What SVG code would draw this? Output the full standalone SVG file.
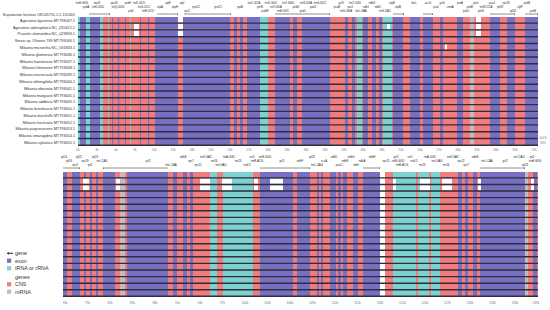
<svg xmlns="http://www.w3.org/2000/svg" width="550" height="310" viewBox="0 0 550 310">
<defs>
<style>
.ex{fill:#7770c2}
.cn{fill:#f27b7b}
.tr{fill:#7cd2cf}
.mr{fill:#c4bcbc}
.wh{fill:#ffffff}
.sep{stroke:#2e2e3c;stroke-width:1.4;fill:none}
.lab{font-family:"Liberation Sans",Arial,sans-serif;font-size:3.8px;fill:#333;text-anchor:end}
.a{font-family:"Liberation Sans",Arial,sans-serif;font-size:2.8px;fill:#222;text-anchor:middle}
.tk{font-family:"Liberation Sans",Arial,sans-serif;font-size:3.2px;fill:#777;text-anchor:middle}
.lg{font-family:"Liberation Sans",Arial,sans-serif;font-size:5.4px;fill:#333}
.gl{stroke:#222;stroke-width:0.5;fill:none}
</style>
<marker id="ar" viewBox="0 0 6 6" refX="5" refY="3" markerWidth="3" markerHeight="3" orient="auto"><path d="M0,0L6,3L0,6z" fill="#222"/></marker>
</defs>
<rect width="550" height="310" fill="#fff"/>

<g id="labels">
<text class="lab" x="75" y="16" textLength="72" lengthAdjust="spacingAndGlyphs">Eupatorium fortunei OK545755.1:1-152401</text>
<text class="lab" x="75" y="21.8">Ageratina ligustrina MT793047.1</text>
<text class="lab" x="75" y="28.6">Ageratina adenophora NC_015621.1</text>
<text class="lab" x="75" y="35.4">Praxelis clematidea NC_023833.1</text>
<text class="lab" x="75" y="42.2">Stevia sp. Oliveira 769 MT793046.1</text>
<text class="lab" x="75" y="49">Mikania micrantha NC_031833.1</text>
<text class="lab" x="75" y="55.8">Mikania glomerata MT793036.1</text>
<text class="lab" x="75" y="62.5">Mikania haenkeana MT793037.1</text>
<text class="lab" x="75" y="69.3">Mikania lehmannii MT793038.1</text>
<text class="lab" x="75" y="76.1">Mikania neurocaula MT793039.1</text>
<text class="lab" x="75" y="82.9">Mikania oblongifolia MT793040.1</text>
<text class="lab" x="75" y="89.7">Mikania obtusata MT793041.1</text>
<text class="lab" x="75" y="96.5">Mikania marguarii MT793045.1</text>
<text class="lab" x="75" y="103.3">Mikania additicia MT793049.1</text>
<text class="lab" x="75" y="110.1">Mikania brevifaucia MT793050.1</text>
<text class="lab" x="75" y="116.9">Mikania burchellii MT793051.1</text>
<text class="lab" x="75" y="123.7">Mikania hectruata MT793052.1</text>
<text class="lab" x="75" y="130.4">Mikania purpurascens MT793053.1</text>
<text class="lab" x="75" y="137.2">Mikania smaragdina MT793054.1</text>
<text class="lab" x="75" y="144">Mikania sylvatica MT793055.1</text>
</g>

<g id="top-panel">
<rect class="cn" x="78" y="17" width="460" height="129"/>
<g class="ex">
<rect x="80" y="17" width="6" height="129"/><rect x="90" y="17" width="10" height="129"/>
<rect x="112" y="17" width="1" height="129"/><rect x="118" y="17" width="1.2" height="129"/>
<rect x="125" y="17" width="1" height="129"/><rect x="140" y="17" width="1" height="129"/>
<rect x="148" y="17" width="1.2" height="129"/><rect x="155" y="17" width="23" height="129"/>
<rect x="183" y="17" width="47" height="129"/><rect x="234" y="17" width="3" height="129"/>
<rect x="240" y="17" width="3" height="129"/><rect x="247" y="17" width="13" height="129"/>
<rect x="275" y="17" width="15" height="129"/><rect x="293" y="17" width="4" height="129"/>
<rect x="302" y="17" width="28" height="129"/><rect x="345" y="17" width="3" height="129"/>
<rect x="352" y="17" width="3" height="129"/><rect x="363" y="17" width="5" height="129"/>
<rect x="372" y="17" width="4" height="129"/><rect x="379" y="17" width="3" height="129"/>
<rect x="393" y="17" width="10" height="129"/><rect x="410" y="17" width="10" height="129"/>
<rect x="423" y="17" width="10" height="129"/><rect x="440" y="17" width="3" height="129"/>
<rect x="457" y="17" width="6" height="129"/><rect x="490" y="17" width="10" height="129"/>
<rect x="507" y="17" width="8" height="129"/><rect x="525" y="17" width="13" height="129"/>
</g>
<g class="tr">
<rect x="78" y="17" width="2" height="129"/><rect x="86" y="17" width="4" height="129"/>
<rect x="100" y="17" width="3" height="129"/><rect x="108" y="17" width="1" height="129"/>
<rect x="130" y="17" width="1" height="129"/><rect x="260" y="17" width="8" height="129"/>
<rect x="357" y="17" width="5" height="129"/><rect x="383" y="17" width="9" height="129"/>
</g>
<rect class="mr" x="470" y="17" width="4" height="129"/>
<g class="wh">
<rect x="134" y="23.8" width="5" height="5.4"/><rect x="134" y="30.6" width="5" height="5.4"/>
<rect x="178" y="17" width="5" height="5.4"/><rect x="178" y="23.8" width="5" height="5.4"/><rect x="178" y="30.6" width="5" height="5.4"/>
<rect x="387" y="23.8" width="3" height="5.4"/>
<rect x="476" y="17" width="5" height="5.4"/><rect x="476" y="23.8" width="5" height="5.4"/><rect x="476" y="30.6" width="5" height="5.4"/>
<rect x="445" y="44.2" width="2" height="5.4"/>
</g>
<path class="sep" d="M78,23.1H538M78,29.9H538M78,36.7H538M78,43.5H538M78,50.3H538M78,57H538M78,63.8H538M78,70.6H538M78,77.4H538M78,84.2H538M78,91H538M78,97.8H538M78,104.6H538M78,111.4H538M78,118.2H538M78,124.9H538M78,131.7H538M78,138.5H538M78,145.3H538"/>
<text class="tk" x="543" y="139" style="font-size:3px">100%</text>
<text class="tk" x="543" y="144" style="font-size:3px">50%</text>
</g>

<g id="top-axis">
<text class="tk" x="78" y="151">0k</text><text class="tk" x="97" y="151">3k</text><text class="tk" x="116" y="151">6k</text><text class="tk" x="135" y="151">9k</text><text class="tk" x="154" y="151">12k</text><text class="tk" x="173" y="151">15k</text><text class="tk" x="192" y="151">18k</text><text class="tk" x="211" y="151">21k</text><text class="tk" x="230" y="151">24k</text><text class="tk" x="249" y="151">27k</text><text class="tk" x="268" y="151">30k</text><text class="tk" x="287" y="151">33k</text><text class="tk" x="306" y="151">36k</text><text class="tk" x="325" y="151">39k</text><text class="tk" x="344" y="151">42k</text><text class="tk" x="363" y="151">45k</text><text class="tk" x="382" y="151">48k</text><text class="tk" x="401" y="151">51k</text><text class="tk" x="420" y="151">54k</text><text class="tk" x="439" y="151">57k</text><text class="tk" x="458" y="151">60k</text><text class="tk" x="477" y="151">63k</text><text class="tk" x="496" y="151">66k</text><text class="tk" x="515" y="151">69k</text><text class="tk" x="534" y="151">72k</text>
</g>

<g id="top-annotation">
<text class="a" x="82" y="4">trnH-GUG</text><text class="a" x="86" y="8">psbA</text><text class="a" x="97" y="4">matK</text><text class="a" x="98" y="8">trnK-UUU</text><text class="a" x="114" y="4">rps16</text><text class="a" x="118" y="8">trnQ-UUG</text><text class="a" x="128" y="4">psbK</text><text class="a" x="131" y="12">psbI</text><text class="a" x="139" y="4">trnS-GCU</text><text class="a" x="144" y="8">trnG-UCC</text><text class="a" x="148" y="12">trnR-UCU</text>
<text class="a" x="160" y="8">atpA</text><text class="a" x="168" y="4">atpF</text><text class="a" x="175" y="8">atpH</text><text class="a" x="182" y="4">atpI</text><text class="a" x="187" y="12">rps2</text><text class="a" x="196" y="8">rpoC2</text><text class="a" x="218" y="8">rpoC1</text><text class="a" x="240" y="8">rpoB</text><text class="a" x="254" y="4">trnC-GCA</text><text class="a" x="260" y="8">petN</text><text class="a" x="265" y="12">psbM</text>
<text class="a" x="271" y="4">trnD-GUC</text><text class="a" x="276" y="8">trnY-GUA</text><text class="a" x="283" y="12">trnE-UUC</text><text class="a" x="288" y="4">trnT-GGU</text><text class="a" x="296" y="8">psbD</text><text class="a" x="303" y="12">psbC</text><text class="a" x="306" y="4">trnS-UGA</text><text class="a" x="313" y="8">psbZ</text><text class="a" x="320" y="4">trnG-GCC</text><text class="a" x="337" y="8">psaB</text>
<text class="a" x="341" y="4">ycf3</text><text class="a" x="346" y="12">trnS-GGA</text><text class="a" x="350" y="8">rps4</text><text class="a" x="355" y="4">trnT-UGU</text><text class="a" x="361" y="12">trnL-UAA</text><text class="a" x="366" y="8">ndhJ</text><text class="a" x="372" y="4">ndhK</text><text class="a" x="378" y="8">ndhC</text><text class="a" x="385" y="12">trnV-UAC</text><text class="a" x="392" y="4">atpE</text><text class="a" x="398" y="8">atpB</text>
<text class="a" x="414" y="4">rbcL</text><text class="a" x="428" y="4">accD</text><text class="a" x="436" y="8">psaI</text><text class="a" x="442" y="4">ycf4</text><text class="a" x="450" y="8">cemA</text><text class="a" x="460" y="4">petA</text><text class="a" x="466" y="12">psbJ</text><text class="a" x="470" y="8">psbE</text><text class="a" x="476" y="4">petL</text><text class="a" x="481" y="12">petG</text><text class="a" x="486" y="8">trnW-CCA</text><text class="a" x="492" y="4">psaJ</text><text class="a" x="500" y="8">rpl33</text><text class="a" x="506" y="4">rps18</text><text class="a" x="513" y="12">rpl20</text><text class="a" x="520" y="8">clpP</text><text class="a" x="527" y="4">psbB</text><text class="a" x="533" y="12">petB</text>
</g>

<g id="connectors">
<path class="gl" marker-end="url(#ar)" d="M89,14H110"/>
<path class="gl" marker-end="url(#ar)" d="M157,14H178"/>
<path class="gl" marker-end="url(#ar)" d="M184,14H231"/>
<path class="gl" marker-end="url(#ar)" d="M275,14H330"/>
<path class="gl" marker-end="url(#ar)" d="M393,14H404"/>
<path class="gl" marker-end="url(#ar)" d="M423,14H433"/>
<path class="gl" marker-end="url(#ar)" d="M490,14H515"/>
<path class="gl" marker-end="url(#ar)" d="M525,14H538"/>
<path class="gl" marker-end="url(#ar)" d="M168,168H103"/>
<path class="gl" marker-end="url(#ar)" d="M260,168H310"/>
<path class="gl" marker-end="url(#ar)" d="M363,168H380"/>
<path class="gl" marker-end="url(#ar)" d="M480,168H525"/>
<path class="gl" marker-end="url(#ar)" d="M63,168H80"/>
</g>

<g id="bottom-annotation">
<text class="a" x="64" y="158">rpl14</text><text class="a" x="69" y="162">rpl16</text><text class="a" x="75" y="166">rps3</text><text class="a" x="79" y="158">rpl22</text><text class="a" x="85" y="162">rps19</text><text class="a" x="90" y="166">rpl2</text><text class="a" x="95" y="158">rpl23</text><text class="a" x="102" y="162">trnI-CAU</text><text class="a" x="148" y="162">ycf2</text>
<text class="a" x="171" y="166">trnL-CAA</text><text class="a" x="183" y="158">ndhB</text><text class="a" x="191" y="162">rps7</text><text class="a" x="198" y="166">rps12</text><text class="a" x="206" y="158">trnV-GAC</text><text class="a" x="214" y="162">rrn16</text><text class="a" x="221" y="166">trnI-GAU</text><text class="a" x="229" y="158">trnA-UGC</text><text class="a" x="238" y="162">rrn23</text><text class="a" x="247" y="166">rrn4.5</text><text class="a" x="252" y="158">rrn5</text><text class="a" x="257" y="162">trnR-ACG</text><text class="a" x="265" y="158">trnN-GUU</text>
<text class="a" x="282" y="162">ycf1</text><text class="a" x="300" y="162">ndhF</text><text class="a" x="312" y="158">rpl32</text><text class="a" x="317" y="166">trnL-UAG</text><text class="a" x="324" y="162">ccsA</text><text class="a" x="334" y="158">ndhD</text><text class="a" x="339" y="166">psaC</text><text class="a" x="345" y="162">ndhE</text><text class="a" x="351" y="158">ndhG</text><text class="a" x="356" y="166">ndhI</text><text class="a" x="362" y="162">ndhA</text><text class="a" x="372" y="158">ndhH</text><text class="a" x="386" y="162">rps15</text>
<text class="a" x="396" y="158">ycf1</text><text class="a" x="398" y="162">trnN-GUU</text><text class="a" x="402" y="166">trnR-ACG</text><text class="a" x="410" y="158">rrn5</text><text class="a" x="414" y="162">rrn4.5</text><text class="a" x="422" y="166">rrn23</text><text class="a" x="430" y="158">trnA-UGC</text><text class="a" x="437" y="162">trnI-GAU</text><text class="a" x="446" y="166">rrn16</text><text class="a" x="453" y="158">trnV-GAC</text><text class="a" x="461" y="162">rps12</text><text class="a" x="466" y="166">rps7</text><text class="a" x="475" y="158">ndhB</text><text class="a" x="487" y="162">trnL-CAA</text><text class="a" x="505" y="162">ycf2</text><text class="a" x="519" y="158">trnI-CAU</text><text class="a" x="525" y="166">rpl23</text><text class="a" x="532" y="158">rpl2</text><text class="a" x="535" y="162">trnH-GUG</text>
</g>

<g id="bottom-panel">
<rect class="cn" x="63" y="172" width="475" height="125"/>
<g class="ex">
<rect x="63" y="172" width="4" height="125"/><rect x="72" y="172" width="8" height="125"/>
<rect x="84" y="172" width="2" height="125"/><rect x="90" y="172" width="2" height="125"/>
<rect x="96" y="172" width="2" height="125"/><rect x="103" y="172" width="12" height="125"/>
<rect x="127" y="172" width="41" height="125"/><rect x="173" y="172" width="4" height="125"/>
<rect x="183" y="172" width="4" height="125"/><rect x="190" y="172" width="3" height="125"/>
<rect x="260" y="172" width="33" height="125"/><rect x="297" y="172" width="13" height="125"/>
<rect x="317" y="172" width="2" height="125"/><rect x="321" y="172" width="2" height="125"/>
<rect x="330" y="172" width="6" height="125"/><rect x="338" y="172" width="3" height="125"/>
<rect x="343" y="172" width="4" height="125"/><rect x="353" y="172" width="5" height="125"/>
<rect x="363" y="172" width="17" height="125"/><rect x="458" y="172" width="4" height="125"/>
<rect x="465" y="172" width="3" height="125"/><rect x="473" y="172" width="4" height="125"/>
<rect x="480" y="172" width="45" height="125"/><rect x="533" y="172" width="4" height="125"/>
</g>
<g class="tr">
<rect x="210" y="172" width="7" height="125"/><rect x="223" y="172" width="30" height="125"/>
<rect x="393" y="172" width="23" height="125"/><rect x="418" y="172" width="11" height="125"/>
<rect x="431" y="172" width="9" height="125"/>
</g>
<g class="mr"><rect x="120" y="172" width="5" height="125"/><rect x="525" y="172" width="3" height="125"/></g>
<rect class="wh" x="380" y="172" width="5" height="125"/>
<g class="wh">
<rect x="83" y="178.6" width="6" height="5.2"/><rect x="83" y="185.2" width="6" height="5.2"/>
<rect x="116" y="178.6" width="4" height="5.2"/><rect x="116" y="185.2" width="4" height="5.2"/>
<rect x="200" y="178.6" width="10" height="5.2"/><rect x="200" y="185.2" width="10" height="5.2"/>
<rect x="222" y="178.6" width="10" height="5.2"/><rect x="222" y="185.2" width="10" height="5.2"/>
<rect x="254" y="178.6" width="4" height="5.2"/><rect x="254" y="185.2" width="4" height="5.2"/>
<rect x="270" y="178.6" width="13" height="5.2"/><rect x="270" y="185.2" width="13" height="5.2"/>
<rect x="393" y="178.6" width="3" height="5.2"/><rect x="393" y="185.2" width="3" height="5.2"/>
<rect x="420" y="178.6" width="10" height="5.2"/><rect x="420" y="185.2" width="10" height="5.2"/>
<rect x="442" y="178.6" width="10" height="5.2"/><rect x="442" y="185.2" width="10" height="5.2"/>
<rect x="478" y="178.6" width="3" height="5.2"/><rect x="478" y="185.2" width="3" height="5.2"/>
<rect x="531" y="178.6" width="3" height="5.2"/><rect x="531" y="185.2" width="3" height="5.2"/>
</g>
<path class="sep" d="M63,177.9H538M63,184.5H538M63,191H538M63,197.6H538M63,204.2H538M63,210.8H538M63,217.4H538M63,223.9H538M63,230.5H538M63,237.1H538M63,243.7H538M63,250.3H538M63,256.8H538M63,263.4H538M63,270H538M63,276.6H538M63,283.2H538M63,289.7H538M63,296.3H538"/>
</g>

<g id="bottom-axis">
<text class="tk" x="65" y="304">76k</text><text class="tk" x="87.5" y="304">79k</text><text class="tk" x="110" y="304">82k</text><text class="tk" x="132.5" y="304">85k</text><text class="tk" x="155" y="304">88k</text><text class="tk" x="177.5" y="304">91k</text><text class="tk" x="200" y="304">94k</text><text class="tk" x="222.5" y="304">97k</text><text class="tk" x="245" y="304">100k</text><text class="tk" x="267.5" y="304">103k</text><text class="tk" x="290" y="304">106k</text><text class="tk" x="312.5" y="304">109k</text><text class="tk" x="335" y="304">112k</text><text class="tk" x="357.5" y="304">115k</text><text class="tk" x="380" y="304">118k</text><text class="tk" x="402.5" y="304">121k</text><text class="tk" x="425" y="304">124k</text><text class="tk" x="447.5" y="304">127k</text><text class="tk" x="470" y="304">130k</text><text class="tk" x="492.5" y="304">133k</text><text class="tk" x="515" y="304">136k</text><text class="tk" x="536" y="304">139k</text>
</g>

<g id="legend">
<path d="M7,253.3H13" stroke="#333" stroke-width="1.1"/><path d="M7,253.3L9,251.9V254.7Z" fill="#333"/>
<text class="lg" x="15" y="255.2">gene</text>
<rect class="ex" x="7" y="258.6" width="4.2" height="4.2"/>
<text class="lg" x="15" y="262.6">exon</text>
<rect class="tr" x="7" y="266.2" width="4.2" height="4.2"/>
<text class="lg" x="15" y="270.2">tRNA or rRNA</text>
<text class="lg" x="15" y="278.6">genes</text>
<rect class="cn" x="7" y="282.2" width="4.2" height="4.2"/>
<text class="lg" x="15" y="286.2">CNS</text>
<rect class="mr" x="7" y="289.6" width="4.2" height="4.2"/>
<text class="lg" x="15" y="293.6">mRNA</text>
</g>
</svg>
